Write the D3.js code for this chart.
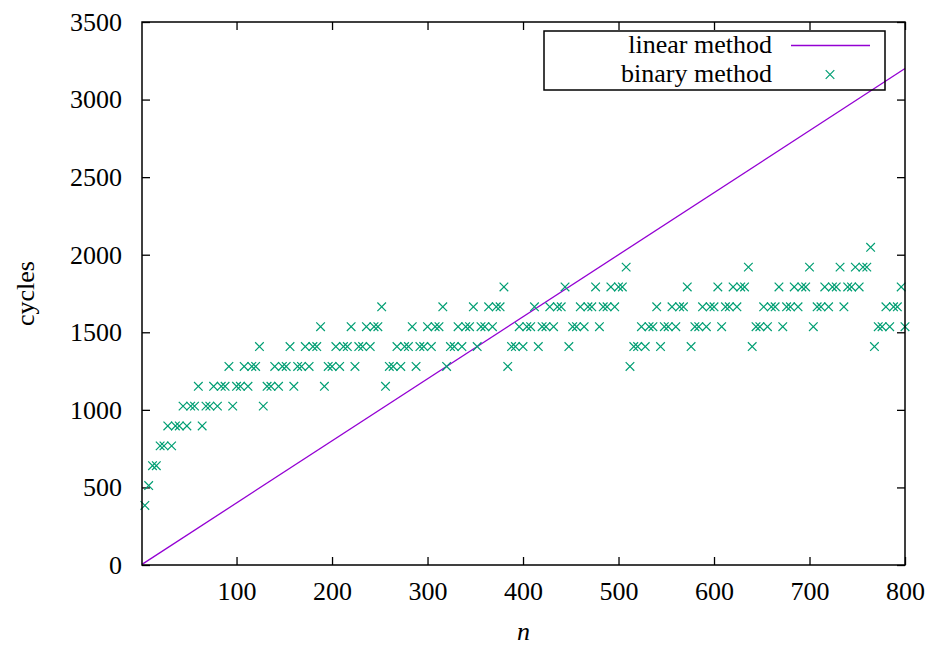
<!DOCTYPE html>
<html>
<head>
<meta charset="utf-8">
<script src="https://cdn.jsdelivr.net/npm/d3@7"></script>
<style>
  body { margin: 0; background: #fff; }
  text { font-family: "Liberation Serif", "DejaVu Serif", serif; }
</style>
</head>
<body>
<div id="chart"></div>
<script>
// n values (every 4th n)
const binaryN = [
  4, 8, 12, 16, 20, 24, 28, 32, 36, 40, 44, 48, 52, 56, 60, 64, 68, 72, 76, 80,
  84, 88, 92, 96, 100, 104, 108, 112, 116, 120, 124, 128, 132, 136, 140, 144, 148, 152, 156, 160,
  164, 168, 172, 176, 180, 184, 188, 192, 196, 200, 204, 208, 212, 216, 220, 224, 228, 232, 236, 240,
  244, 248, 252, 256, 260, 264, 268, 272, 276, 280, 284, 288, 292, 296, 300, 304, 308, 312, 316, 320,
  324, 328, 332, 336, 340, 344, 348, 352, 356, 360, 364, 368, 372, 376, 380, 384, 388, 392, 396, 400,
  404, 408, 412, 416, 420, 424, 428, 432, 436, 440, 444, 448, 452, 456, 460, 464, 468, 472, 476, 480,
  484, 488, 492, 496, 500, 504, 508, 512, 516, 520, 524, 528, 532, 536, 540, 544, 548, 552, 556, 560,
  564, 568, 572, 576, 580, 584, 588, 592, 596, 600, 604, 608, 612, 616, 620, 624, 628, 632, 636, 640,
  644, 648, 652, 656, 660, 664, 668, 672, 676, 680, 684, 688, 692, 696, 700, 704, 708, 712, 716, 720,
  724, 728, 732, 736, 740, 744, 748, 752, 756, 760, 764, 768, 772, 776, 780, 784, 788, 792, 796, 800
];

// cycles of the binary method (levels are multiples of 128)
const binaryCycles = [
  384, 512, 640, 640, 768, 768, 896, 768, 896, 896, 1024, 896, 1024, 1024, 1152, 896,
  1024, 1024, 1152, 1024, 1152, 1152, 1280, 1024, 1152, 1152, 1280, 1152, 1280, 1280, 1408,
  1024, 1152, 1152, 1280, 1152, 1280, 1280, 1408, 1152, 1280, 1280, 1408, 1280, 1408, 1408, 1536,
  1152, 1280, 1280, 1408, 1280, 1408, 1408, 1536, 1280, 1408, 1408, 1536, 1408, 1536, 1536, 1664,
  1152, 1280, 1280, 1408, 1280, 1408, 1408, 1536, 1280, 1408, 1408, 1536, 1408, 1536, 1536, 1664,
  1280, 1408, 1408, 1536, 1408, 1536, 1536, 1664, 1408, 1536, 1536, 1664, 1536, 1664, 1664, 1792,
  1280, 1408, 1408, 1536, 1408, 1536, 1536, 1664, 1408, 1536, 1536, 1664, 1536, 1664, 1664, 1792,
  1408, 1536, 1536, 1664, 1536, 1664, 1664, 1792, 1536, 1664, 1664, 1792, 1664, 1792, 1792, 1920,
  1280, 1408, 1408, 1536, 1408, 1536, 1536, 1664, 1408, 1536, 1536, 1664, 1536, 1664, 1664, 1792,
  1408, 1536, 1536, 1664, 1536, 1664, 1664, 1792, 1536, 1664, 1664, 1792, 1664, 1792, 1792, 1920,
  1408, 1536, 1536, 1664, 1536, 1664, 1664, 1792, 1536, 1664, 1664, 1792, 1664, 1792, 1792, 1920,
  1536, 1664, 1664, 1792, 1664, 1792, 1792, 1920, 1664, 1792, 1792, 1920, 1792, 1920, 1920, 2048,
  1408, 1536, 1536, 1664, 1536, 1664, 1664, 1792, 1536
];

// linear method: straight line, endpoints
const linearN = [1, 800];
const linearCycles = [4, 3200];

const xTicks = [100, 200, 300, 400, 500, 600, 700, 800];
const yTicks = [0, 500, 1000, 1500, 2000, 2500, 3000, 3500];

const seriesNames = ['linear method', 'binary method'];
const colors = { linear: '#9400d3', binary: '#009e73' };

const width = 925;
const height = 646;
const margin = { top: 22, right: 20, bottom: 81, left: 142 };

const svg = d3.select('#chart')
  .append('svg')
  .attr('width', width)
  .attr('height', height);

const x = d3.scaleLinear().domain([1, 800]).range([margin.left, width - margin.right]);
const y = d3.scaleLinear().domain([0, 3500]).range([height - margin.bottom, margin.top]);

// axes, gnuplot style: inward ticks, mirrored
const axisStyle = g => {
  g.attr('font-family', null).attr('font-size', null);
  g.select('.domain').remove();
  g.selectAll('.tick line').attr('stroke', '#000').attr('stroke-width', 1.3);
  g.selectAll('.tick text').attr('fill', '#000')
    .style('font-size', '26px')
    .style('font-family', '"Liberation Serif", serif');
};

svg.append('g')
  .attr('transform', `translate(0,${y(0)})`)
  .call(d3.axisBottom(x).tickValues(xTicks).tickFormat(d3.format('d'))
    .tickSize(-8).tickSizeOuter(0).tickPadding(17))
  .call(axisStyle);

svg.append('g')
  .attr('transform', `translate(0,${y(3500)})`)
  .call(d3.axisTop(x).tickValues(xTicks).tickSize(-8).tickSizeOuter(0).tickFormat(''))
  .call(axisStyle);

svg.append('g')
  .attr('transform', `translate(${x(1)},0)`)
  .call(d3.axisLeft(y).tickValues(yTicks).tickFormat(d3.format('d'))
    .tickSize(-8).tickSizeOuter(0).tickPadding(20))
  .call(axisStyle);

svg.append('g')
  .attr('transform', `translate(${x(800)},0)`)
  .call(d3.axisRight(y).tickValues(yTicks).tickSize(-8).tickSizeOuter(0).tickFormat(''))
  .call(axisStyle);

// linear method line
const linearData = linearN.map((n, i) => ({ n: n, c: linearCycles[i] }));
const line = d3.line().x(d => x(d.n)).y(d => y(d.c));
svg.append('path')
  .datum(linearData)
  .attr('d', line)
  .attr('fill', 'none')
  .attr('stroke', colors.linear)
  .attr('stroke-width', 1.3);

// binary method crosses
const cross = s => `M${-s},${-s}L${s},${s}M${-s},${s}L${s},${-s}`;
const binaryData = binaryN.map((n, i) => ({ n: n, c: binaryCycles[i] }));
svg.append('g')
  .selectAll('path')
  .data(binaryData)
  .enter()
  .append('path')
  .attr('transform', d => `translate(${x(d.n)},${y(d.c)})`)
  .attr('d', cross(4.3))
  .attr('fill', 'none')
  .attr('stroke', colors.binary)
  .attr('stroke-width', 1.2);

// plot border
svg.append('rect')
  .attr('x', x(1))
  .attr('y', y(3500))
  .attr('width', x(800) - x(1))
  .attr('height', y(0) - y(3500))
  .attr('fill', 'none')
  .attr('stroke', '#000')
  .attr('stroke-width', 1.5);

// axis labels
svg.append('text')
  .attr('transform', `translate(26,${(y(0) + y(3500)) / 2}) rotate(-90)`)
  .attr('text-anchor', 'middle')
  .attr('dy', '0.32em')
  .style('font-size', '26px')
  .text('cycles');

svg.append('text')
  .attr('x', (x(1) + x(800)) / 2)
  .attr('y', 640)
  .attr('text-anchor', 'middle')
  .style('font-size', '26px')
  .style('font-style', 'italic')
  .text('n');

// legend
const legend = svg.append('g');
legend.append('rect')
  .attr('x', 544)
  .attr('y', 31)
  .attr('width', 341)
  .attr('height', 59)
  .attr('fill', 'none')
  .attr('stroke', '#000')
  .attr('stroke-width', 1.5);

legend.selectAll('text')
  .data(seriesNames)
  .enter()
  .append('text')
  .attr('x', 772)
  .attr('y', (d, i) => 53 + i * 29)
  .attr('text-anchor', 'end')
  .style('font-size', '26px')
  .text(d => d);

legend.append('line')
  .attr('x1', 791).attr('x2', 870)
  .attr('y1', 45.5).attr('y2', 45.5)
  .attr('stroke', colors.linear)
  .attr('stroke-width', 1.3);

legend.append('path')
  .attr('transform', 'translate(830,74.5)')
  .attr('d', cross(4.3))
  .attr('fill', 'none')
  .attr('stroke', colors.binary)
  .attr('stroke-width', 1.2);
</script>
</body>
</html>
